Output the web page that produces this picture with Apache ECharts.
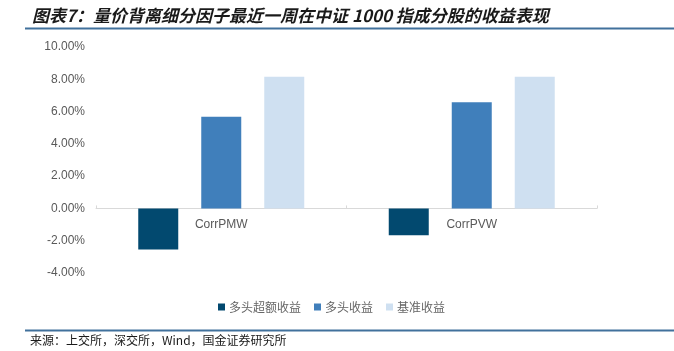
<!DOCTYPE html>
<html>
<head>
<meta charset="utf-8">
<script src="https://cdn.jsdelivr.net/npm/echarts@6/dist/echarts.min.js"></script>
<style>
html,body{margin:0;padding:0;background:#fff;}
#c{width:674px;height:351px;}
</style>
</head>
<body>
<div id="c"></div>
<script>
var categories = ['CorrPMW', 'CorrPVW'];
var seriesNames = ['多头超额收益', '多头收益', '基准收益'];
var excessReturn = [-2.54, -1.66];
var longReturn = [5.68, 6.58];
var benchReturn = [8.16, 8.16];
var yTicks = { min: -4, max: 10, interval: 2 };
var titleText = '图表7：量价背离细分因子最近一周在中证 1000 指成分股的收益表现';
var sourceText = '来源：上交所，深交所，Wind，国金证券研究所';

var chart = echarts.init(document.getElementById('c'), null, { renderer: 'canvas' });
var colors = ['#02496f', '#407fbb', '#cfe0f1'];
var fontLatin = 'Liberation Sans, Arial, Noto Sans CJK SC, sans-serif';
var option = {
  animation: false,
  title: {
    text: titleText,
    left: 27,
    top: 2,
    textStyle: {
      fontSize: 17,
      fontStyle: 'italic',
      fontWeight: 'bold',
      color: '#1a1a1a',
      fontFamily: 'Noto Sans CJK SC, sans-serif'
    }
  },
  graphic: [
    { type: 'line', shape: { x1: 25, y1: 28.5, x2: 674, y2: 28.5 }, style: { stroke: '#41719c', lineWidth: 2 } },
    { type: 'line', shape: { x1: 25, y1: 330.5, x2: 674, y2: 330.5 }, style: { stroke: '#41719c', lineWidth: 2 } },
    { type: 'text', left: 30, top: 334, style: { text: sourceText, fontSize: 12, fill: '#1a1a1a', fontFamily: 'Noto Sans CJK SC, sans-serif' } }
  ],
  color: colors,
  legend: {
    data: seriesNames,
    left: 213,
    top: 296,
    itemWidth: 7,
    itemHeight: 7,
    itemGap: 13,
    icon: 'rect',
    textStyle: { fontSize: 12, color: '#666666', fontFamily: 'Noto Sans CJK SC, sans-serif', padding: [0, 0, 0, -1] }
  },
  grid: { left: 96, right: 77, top: 47, height: 226, containLabel: false },
  xAxis: {
    type: 'category',
    data: categories,
    axisLine: { onZero: true, lineStyle: { color: '#d9d9d9', width: 1 } },
    axisTick: { show: true, inside: true, length: 3, lineStyle: { color: '#d9d9d9' } },
    axisLabel: { margin: -54, fontSize: 12, color: '#595959', fontFamily: fontLatin },
    splitLine: { show: false }
  },
  yAxis: {
    type: 'value',
    min: yTicks.min,
    max: yTicks.max,
    interval: yTicks.interval,
    axisLine: { show: false },
    axisTick: { show: false },
    splitLine: { show: false },
    axisLabel: {
      margin: 11,
      fontSize: 12,
      color: '#595959',
      fontFamily: fontLatin,
      padding: [5, 0, 0, 0],
      formatter: function (v) { return v.toFixed(2) + '%'; }
    }
  },
  series: [
    { name: seriesNames[0], type: 'bar', data: excessReturn, barWidth: 40, barGap: '57.5%' },
    { name: seriesNames[1], type: 'bar', data: longReturn, barWidth: 40, barGap: '57.5%' },
    { name: seriesNames[2], type: 'bar', data: benchReturn, barWidth: 40, barGap: '57.5%' }
  ]
};
chart.setOption(option);
</script>
</body>
</html>
